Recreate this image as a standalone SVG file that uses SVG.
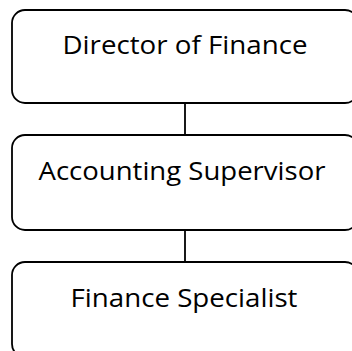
<svg xmlns="http://www.w3.org/2000/svg" width="352" height="351" viewBox="0 0 352 351">
<style>
.box{fill:#fff;stroke:#000;stroke-width:1.8}
.lbl{font-family:"Open Sans","Liberation Sans",sans-serif;font-size:25px;fill:#000;text-anchor:middle}
.conn{stroke:#000;stroke-width:1.8;fill:none}
</style>
<rect width="352" height="351" fill="#fff"/>
<g id="connectors">
<line class="conn" x1="185" y1="103" x2="185" y2="135"/>
<line class="conn" x1="185" y1="230" x2="185" y2="262"/>
</g>
<g id="director">
<rect class="box" x="12" y="10" width="346" height="93" rx="13"/>
<text class="lbl" x="185" y="54" textLength="245" lengthAdjust="spacingAndGlyphs">Director of Finance</text>
</g>
<g id="supervisor">
<rect class="box" x="12" y="135" width="346" height="95" rx="13"/>
<text class="lbl" x="182" y="180" textLength="287" lengthAdjust="spacingAndGlyphs">Accounting Supervisor</text>
</g>
<g id="specialist">
<rect class="box" x="12" y="262" width="346" height="95" rx="13"/>
<text class="lbl" x="184" y="307" textLength="227" lengthAdjust="spacingAndGlyphs">Finance Specialist</text>
</g>
</svg>
